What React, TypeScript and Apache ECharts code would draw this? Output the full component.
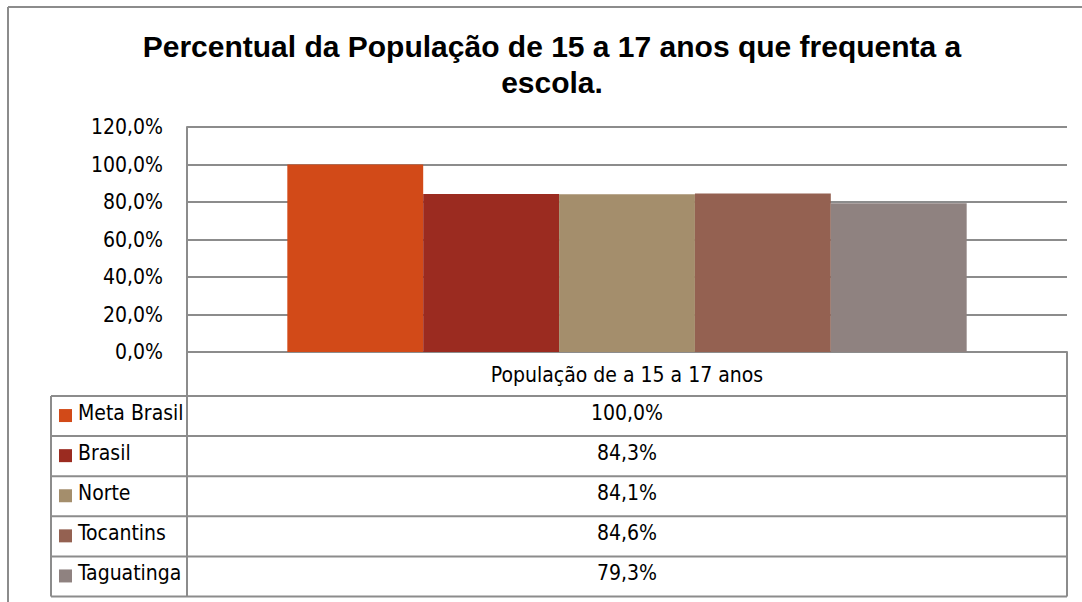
import React, { useEffect, useRef } from "react";
import * as echarts from "echarts";

const titleLines = ["Percentual da População de 15 a 17 anos que frequenta a", "escola."];
const category = "População de a 15 a 17 anos";
const seriesNames = ["Meta Brasil", "Brasil", "Norte", "Tocantins", "Taguatinga"];
const seriesValues = [100.0, 84.3, 84.1, 84.6, 79.3];
const seriesColors = ["#D24A18", "#9B2B20", "#A48E6C", "#946151", "#8F8280"];
const yTicks = [0, 20, 40, 60, 80, 100, 120];

const fmt = (v: number) => v.toFixed(1).replace(".", ",") + "%";

const NARROW = "'Liberation Sans Narrow', 'DejaVu Sans Condensed', sans-serif";
const GRID = "#8C8C8C";

export default function App() {
  const ref = useRef<HTMLDivElement>(null);
  useEffect(() => {
    const chart = echarts.init(ref.current!, null, { renderer: "svg" });
    const left = 187, right = 1067, axisY = 352, tableTop = 396, rowH = 40.1, legLeft = 51;
    const graphics: any[] = [];
    // outer frame
    graphics.push({ type: "line", shape: { x1: 8, y1: 7, x2: 1082, y2: 7 }, style: { stroke: GRID, lineWidth: 2 } });
    graphics.push({ type: "line", shape: { x1: 8, y1: 7, x2: 8, y2: 602 }, style: { stroke: GRID, lineWidth: 2 } });
    titleLines.forEach((t, i) => {
      graphics.push({
        type: "text", x: 552, y: 46 + i * 36,
        style: { text: t, fill: "#000", font: "bold 30px 'Liberation Sans', Arial, sans-serif", textAlign: "center", textVerticalAlign: "middle" },
      });
    });
    // table lines
    graphics.push({ type: "line", shape: { x1: left, y1: axisY, x2: left, y2: tableTop + rowH * 5 }, style: { stroke: GRID, lineWidth: 2 } });
    graphics.push({ type: "line", shape: { x1: right, y1: axisY, x2: right, y2: tableTop + rowH * 5 }, style: { stroke: GRID, lineWidth: 2 } });
    graphics.push({ type: "line", shape: { x1: legLeft, y1: tableTop, x2: legLeft, y2: tableTop + rowH * 5 }, style: { stroke: GRID, lineWidth: 2 } });
    for (let i = 0; i <= 5; i++) {
      const y = tableTop + rowH * i;
      graphics.push({ type: "line", shape: { x1: legLeft, y1: y, x2: right, y2: y }, style: { stroke: GRID, lineWidth: 2 } });
    }
    seriesNames.forEach((n, i) => {
      const cy = tableTop + rowH * i + rowH / 2 - 3;
      graphics.push({ type: "rect", shape: { x: 59, y: cy - 4, width: 13, height: 13 }, style: { fill: seriesColors[i] } });
      graphics.push({ type: "text", x: 78, y: cy, style: { text: n, fill: "#000", font: `21px ${NARROW}`, textAlign: "left", textVerticalAlign: "middle" } });
      graphics.push({ type: "text", x: (left + right) / 2, y: cy, style: { text: fmt(seriesValues[i]), fill: "#000", font: `21px ${NARROW}`, textAlign: "center", textVerticalAlign: "middle" } });
    });

    chart.setOption({
      animation: false,
      grid: { left: left, right: 1082 - right, top: 127, bottom: 602 - axisY, containLabel: false },
      xAxis: {
        type: "category", data: [category],
        axisLine: { lineStyle: { color: GRID, width: 2 } },
        axisTick: { show: false },
        axisLabel: { margin: 12, color: "#000", fontSize: 21, fontFamily: NARROW },
      },
      yAxis: {
        type: "value", min: 0, max: yTicks[yTicks.length - 1], interval: 20,
        axisLine: { show: true, lineStyle: { color: GRID, width: 2 } },
        axisTick: { show: false },
        splitLine: { lineStyle: { color: GRID, width: 2 } },
        axisLabel: { margin: 24, color: "#000", fontSize: 21, fontFamily: NARROW, formatter: (v: number) => fmt(v) },
      },
      series: seriesNames.map((n, i) => ({
        name: n, type: "bar", data: [seriesValues[i]],
        itemStyle: { color: seriesColors[i] },
        barGap: "0%", barCategoryGap: "22.8%",
      })),
      graphic: graphics,
    });
    return () => chart.dispose();
  }, []);
  return <div ref={ref} style={{ width: 1082, height: 602, position: "absolute", left: 0, top: 0 }} />;
}
